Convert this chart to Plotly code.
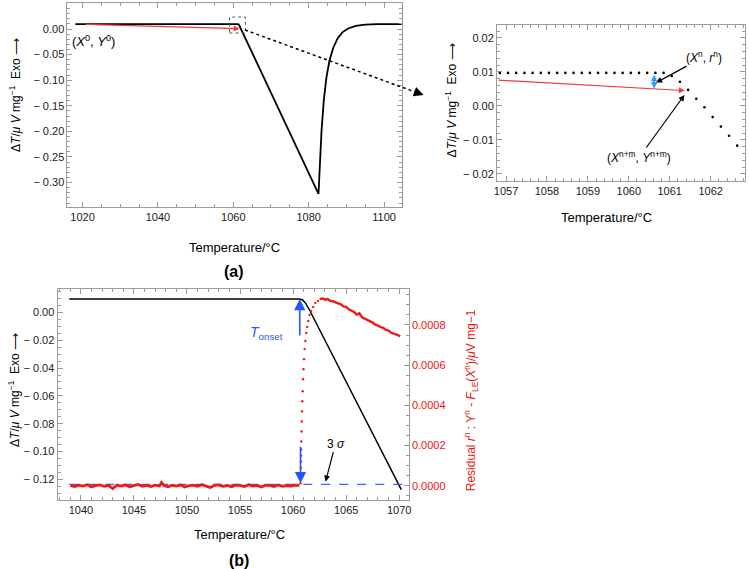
import plotly.graph_objects as go

# ---------------- data ----------------
# Panel (a), overview DSC curve
a_temp = [1018.1, 1061.3, 1061.6, 1082.6, 1082.75, 1083.0, 1083.4, 1084.0, 1084.7, 1085.5,
          1086.5, 1087.7, 1089.0, 1090.5, 1092.5, 1095.0, 1098.0, 1104.7]
a_dT = [0.0097, 0.0097, 0.0068, -0.322, -0.30, -0.26, -0.20, -0.14, -0.095, -0.062,
        -0.037, -0.018, -0.006, 0.001, 0.006, 0.0085, 0.0095, 0.0097]

# Panel (a), inset: individual measured points
inset_temp = [1056.85, 1057.05, 1057.25, 1057.45, 1057.65, 1057.85, 1058.05, 1058.25, 1058.45,
              1058.65, 1058.85, 1059.05, 1059.25, 1059.45, 1059.65, 1059.85, 1060.05, 1060.25,
              1060.45, 1060.65, 1060.85, 1061.05, 1061.25, 1061.45, 1061.65, 1061.85, 1062.05,
              1062.25, 1062.45, 1062.65]
inset_dT = [0.0097, 0.0097, 0.0097, 0.0097, 0.0097, 0.0097, 0.0097, 0.0097, 0.0097,
            0.0097, 0.0097, 0.0097, 0.0097, 0.0097, 0.0097, 0.0097, 0.0097, 0.0097,
            0.0097, 0.0097, 0.0097, 0.0088, 0.0071, 0.0047, 0.0021, -0.0004, -0.0033,
            -0.0061, -0.0088, -0.0117]

# Panel (b), DSC curve
b_temp = [1038.9, 1060.6, 1060.9, 1061.2, 1061.5, 1070.2]
b_dT = [0.0097, 0.0097, 0.0090, 0.0064, 0.0025, -0.1275]

# Panel (b), residuals (baseline noise)
res_base_temp = [1039.0, 1039.4, 1039.8, 1040.2, 1040.6, 1041.0, 1041.4, 1041.8, 1042.2, 1042.6,
                 1043.0, 1043.4, 1043.8, 1044.2, 1044.6, 1045.0, 1045.4, 1045.8, 1046.2, 1046.6,
                 1047.0, 1047.4, 1047.6, 1047.8, 1048.2, 1048.6, 1049.0, 1049.4, 1049.8, 1050.2,
                 1050.6, 1051.0, 1051.4, 1051.8, 1052.2, 1052.6, 1053.0, 1053.4, 1053.8, 1054.2,
                 1054.6, 1055.0, 1055.4, 1055.8, 1056.2, 1056.6, 1057.0, 1057.4, 1057.8, 1058.2,
                 1058.6, 1059.0, 1059.4, 1059.8, 1060.2, 1060.6]
res_base = [2e-6, -4e-6, 3e-6, -2e-6, 5e-6, -6e-6, 1e-6, 4e-6, -3e-6, 2e-6,
            -14e-6, 3e-6, -2e-6, 4e-6, -5e-6, 1e-6, 6e-6, -3e-6, 2e-6, -4e-6,
            3e-6, -1e-6, 16e-6, 2e-6, -5e-6, 3e-6, -2e-6, 4e-6, -6e-6, 1e-6,
            3e-6, -3e-6, 5e-6, -2e-6, -9e-6, 2e-6, 4e-6, -3e-6, 1e-6, -5e-6,
            3e-6, 2e-6, -4e-6, 5e-6, -2e-6, 1e-6, -6e-6, 3e-6, 2e-6, -4e-6,
            4e-6, -3e-6, 1e-6, -2e-6, 3e-6, 2e-6]
# residual rise (sparse points)
res_rise_temp = [1060.70, 1060.71, 1060.72, 1060.73, 1060.74, 1060.75, 1060.76, 1060.78, 1060.80,
                 1060.82, 1060.84, 1060.87, 1060.90, 1060.94, 1060.98, 1061.03, 1061.09, 1061.16,
                 1061.24, 1061.33, 1061.43, 1061.55, 1061.7, 1061.9, 1062.1, 1062.35, 1062.6]
res_rise = [0.000012, 0.00003, 0.00006, 0.00009, 0.00012, 0.00015, 0.00018, 0.00022, 0.00027,
            0.00032, 0.00037, 0.00042, 0.00047, 0.00053, 0.00058, 0.00063, 0.00068, 0.00072,
            0.00076, 0.00079, 0.00082, 0.00085, 0.00087, 0.00089, 0.00091, 0.00092, 0.00093]
# residual tail
res_tail_temp = [1062.6, 1062.8, 1063.0, 1063.25, 1063.5, 1063.75, 1064.0, 1064.25, 1064.5, 1064.75,
                 1065.0, 1065.25, 1065.5, 1065.75, 1066.0, 1066.25, 1066.5, 1066.75, 1067.0,
                 1067.25, 1067.5, 1067.75, 1068.0, 1068.25, 1068.5, 1068.75, 1069.0, 1069.25,
                 1069.5, 1069.75, 1070.1]
res_tail = [0.00093, 0.000932, 0.000926, 0.000929, 0.00092, 0.000918, 0.000912, 0.000906, 0.000903,
            0.000892, 0.00089, 0.000878, 0.000872, 0.000865, 0.000852, 0.000858, 0.000838, 0.000832,
            0.000826, 0.000818, 0.000812, 0.000801, 0.000797, 0.000789, 0.000786, 0.000775,
            0.000772, 0.000761, 0.000758, 0.000752, 0.000745]
three_sigma_temp = [1038.9, 1070.9]
three_sigma = [0.000007, 0.000007]

# tick labels
NB = "\u00a0"
a_yticks = [0.05, 0.0, -0.05, -0.10, -0.15, -0.20, -0.25, -0.30, -0.35]
a_ylabels = ["0.05", "0.00", "−" + NB + "0.05", "−" + NB + "0.10", "−" + NB + "0.15",
             "−" + NB + "0.20", "−" + NB + "0.25", "−" + NB + "0.30", "−" + NB + "0.35"]
a_xticks = [1020, 1040, 1060, 1080, 1100]
inset_yticks = [0.02, 0.01, 0.0, -0.01, -0.02]
inset_ylabels = ["0.02", "0.01", "0.00", "−" + NB + "0.01", "−" + NB + "0.02"]
inset_xticks = [1057, 1058, 1059, 1060, 1061, 1062]
b_yticks = [0.0, -0.02, -0.04, -0.06, -0.08, -0.10, -0.12]
b_ylabels = ["0.00", "−" + NB + "0.02", "−" + NB + "0.04", "−" + NB + "0.06", "−" + NB + "0.08",
             "−" + NB + "0.10", "−" + NB + "0.12"]
b_xticks = [1040, 1045, 1050, 1055, 1060, 1065, 1070]
b_y2ticks = [0.0, 0.0002, 0.0004, 0.0006, 0.0008]

# ---------------- figure ----------------
W, H = 749, 569
FONT = "Liberation Sans, Arial, Helvetica, sans-serif"
FRAME = "#9a9a9a"


def px(x):
    return x / W


def py(y):
    return 1 - y / H


fig = go.Figure()
fig.add_trace(go.Scatter(x=a_temp, y=a_dT, mode="lines", line=dict(color="black", width=1.8),
                         xaxis="x", yaxis="y", showlegend=False))
fig.add_trace(go.Scatter(x=inset_temp, y=inset_dT, mode="markers",
                         marker=dict(color="black", size=2.6), xaxis="x2", yaxis="y2", showlegend=False))
fig.add_trace(go.Scatter(x=b_temp, y=b_dT, mode="lines", line=dict(color="black", width=1.5),
                         xaxis="x3", yaxis="y3", showlegend=False))
fig.add_trace(go.Scatter(x=three_sigma_temp, y=three_sigma, mode="lines",
                         line=dict(color="#3a66ff", width=1.2, dash="dash"),
                         xaxis="x3", yaxis="y4", showlegend=False))
fig.add_trace(go.Scatter(x=res_base_temp, y=res_base, mode="lines", line=dict(color="#f01818", width=2.8),
                         xaxis="x3", yaxis="y4", showlegend=False))
fig.add_trace(go.Scatter(x=res_rise_temp, y=res_rise, mode="markers", marker=dict(color="#f01818", size=2.4),
                         xaxis="x3", yaxis="y4", showlegend=False))
fig.add_trace(go.Scatter(x=res_tail_temp, y=res_tail, mode="lines", line=dict(color="#f01818", width=2.4),
                         xaxis="x3", yaxis="y4", showlegend=False))

tickfont = dict(family=FONT, size=11, color="#1a1a1a")
common = dict(showline=True, linecolor=FRAME, linewidth=1, ticks="inside", tickcolor=FRAME,
              ticklen=5, showgrid=False, zeroline=False, tickfont=tickfont)

fig.update_layout(
    width=W, height=H, margin=dict(l=0, r=0, t=0, b=0),
    paper_bgcolor="white", plot_bgcolor="white",
    font=dict(family=FONT, size=12, color="black"),
    xaxis=dict(domain=[px(65), px(402)], range=[1016, 1104.7], anchor="y", mirror="ticks",
               tickvals=a_xticks, minor=dict(ticks="inside", dtick=5, ticklen=3, tickcolor=FRAME), **common),
    yaxis=dict(domain=[py(207), py(3)], range=[-0.3477, 0.0508], anchor="x", mirror="ticks",
               tickvals=a_yticks, ticktext=a_ylabels,
               minor=dict(ticks="inside", dtick=0.01, ticklen=3, tickcolor=FRAME), **common),
    xaxis2=dict(domain=[px(498), px(748)], range=[1056.78, 1062.84], anchor="y2", mirror="ticks",
                tickvals=inset_xticks, minor=dict(ticks="inside", dtick=0.2, ticklen=3, tickcolor=FRAME), **common),
    yaxis2=dict(domain=[py(181), py(25)], range=[-0.0221, 0.0238], anchor="x2", mirror="ticks",
                tickvals=inset_yticks, ticktext=inset_ylabels,
                minor=dict(ticks="inside", dtick=0.002, ticklen=3, tickcolor=FRAME), **common),
    xaxis3=dict(domain=[px(55), px(409)], range=[1037.8, 1070.9], anchor="y3", mirror="ticks",
                tickvals=b_xticks, minor=dict(ticks="inside", dtick=1, ticklen=3, tickcolor=FRAME), **common),
    yaxis3=dict(domain=[py(500), py(289)], range=[-0.1349, 0.0169], anchor="x3",
                tickvals=b_yticks, ticktext=b_ylabels,
                minor=dict(ticks="inside", dtick=0.005, ticklen=3, tickcolor=FRAME), **common),
    yaxis4=dict(overlaying="y3", side="right", anchor="x3", range=[-0.0000711, 0.000979],
                tickvals=b_y2ticks, tickformat=".4f",
                showline=True, linecolor=FRAME, linewidth=1, ticks="inside", tickcolor=FRAME,
                ticklen=5, showgrid=False, zeroline=False,
                tickfont=dict(family=FONT, size=11, color="#ee1111"),
                minor=dict(ticks="inside", dtick=0.00005, ticklen=3, tickcolor=FRAME)),
)

# zoom box and connector
fig.add_shape(type="rect", xref="x", yref="y", x0=1059.0, x1=1063.2, y0=-0.0078, y1=0.0234,
              line=dict(color="#555555", width=1, dash="dot"))
fig.add_shape(type="line", xref="paper", yref="paper", x0=px(244), y0=py(30), x1=px(421), y1=py(94),
              line=dict(color="black", width=1.5, dash="dot"))

ann = []


def text(x, y, s, size=13, color="black", angle=0, bold=False):
    if bold:
        s = "<b>" + s + "</b>"
    ann.append(dict(xref="paper", yref="paper", x=px(x), y=py(y), text=s, showarrow=False,
                    textangle=angle, xanchor="center", yanchor="middle",
                    font=dict(family=FONT, size=size, color=color)))


# arrowhead for dotted connector
ann.append(dict(xref="paper", yref="paper", x=px(424), y=py(95), ax=-10, ay=-3.6, text="",
                showarrow=True, arrowhead=2, arrowsize=1.3, arrowwidth=1.5, arrowcolor="black"))

# red arrows (linear extrapolation)
ann.append(dict(xref="x", yref="y", x=1061.7, y=0.0006, axref="x", ayref="y", ax=1020.4, ay=0.0092,
                text="", showarrow=True, arrowhead=2, arrowsize=1, arrowwidth=1.2, arrowcolor="#ee3a3a"))
ann.append(dict(xref="x2", yref="y2", x=1061.37, y=0.0045, axref="x2", ayref="y2", ax=1056.78, ay=0.0076,
                text="", showarrow=True, arrowhead=2, arrowsize=1, arrowwidth=1.2, arrowcolor="#ee3a3a"))
# blue residual double arrow
ann.append(dict(xref="x2", yref="y2", x=1060.62, y=0.0051, axref="x2", ayref="y2", ax=1060.62, ay=0.0096,
                text="", showarrow=True, arrowhead=2, startarrowhead=2, arrowside="end+start",
                arrowsize=0.8, startarrowsize=0.8, arrowwidth=1.6, arrowcolor="#3399ee"))
# inset labels
ann.append(dict(xref="x2", yref="y2", x=1060.67, y=0.00685, ax=48, ay=-26,
                text="(<i>X</i><sup>n</sup>, <i>r</i><sup>n</sup>)", showarrow=True, arrowhead=2,
                arrowsize=1, arrowwidth=1.2, arrowcolor="black", font=dict(family=FONT, size=12)))
ann.append(dict(xref="x2", yref="y2", x=1061.36, y=0.0032, ax=-45, ay=62,
                text="(<i>X</i><sup>n+m</sup>, <i>Y</i><sup>n+m</sup>)", showarrow=True, arrowhead=2,
                arrowsize=1, arrowwidth=1.2, arrowcolor="black", font=dict(family=FONT, size=12)))

# panel (b) arrows
ann.append(dict(xref="x3", yref="y3", x=1060.63, y=0.0097, ax=0, ay=38, text="", showarrow=True,
                arrowhead=2, arrowsize=1.4, arrowwidth=1.6, arrowcolor="#2255ff"))
ann.append(dict(xref="x3", yref="y3", x=1060.7, y=-0.1229, ax=0, ay=-38, text="", showarrow=True,
                arrowhead=2, arrowsize=1.4, arrowwidth=1.6, arrowcolor="#2255ff"))
ann.append(dict(xref="x3", yref="y3", x=1063.06, y=-0.1217, ax=10, ay=-38, text="3 <i>σ</i>",
                showarrow=True, arrowhead=2, arrowsize=1, arrowwidth=1.2, arrowcolor="black",
                font=dict(family=FONT, size=12)))
text(266, 333, "<i>T</i><sub>onset</sub>", size=14, color="#3355ff")

# labels
text(91, 41, "(<i>X</i><sup>0</sup>, <i>Y</i><sup>0</sup>)", size=13)
ytitle = "Δ<i>T</i>/<i>μ</i> <i>V</i> mg<sup>−1</sup>  Exo ⟶"
text(12, 95, ytitle, size=12, angle=-90)
text(452, 100, ytitle, size=12, angle=-90)
text(11, 390, ytitle, size=12, angle=-90)
text(472, 400, "Residual <i>r</i><sup>n</sup> : Y<sup>n</sup> - <i>F</i><sub>LE</sub>(<i>X</i><sup>n</sup>)/<i>μ</i>V mg−1",
     size=12, color="#ee1111", angle=-90)
text(233, 247, "Temperature/°C", size=13)
text(608, 217, "Temperature/°C", size=13)
text(238, 534, "Temperature/°C", size=13)
text(233, 271, "(a)", size=16, bold=True)
text(238, 560, "(b)", size=16, bold=True)

fig.update_layout(annotations=ann)
fig.write_html("out.html")
